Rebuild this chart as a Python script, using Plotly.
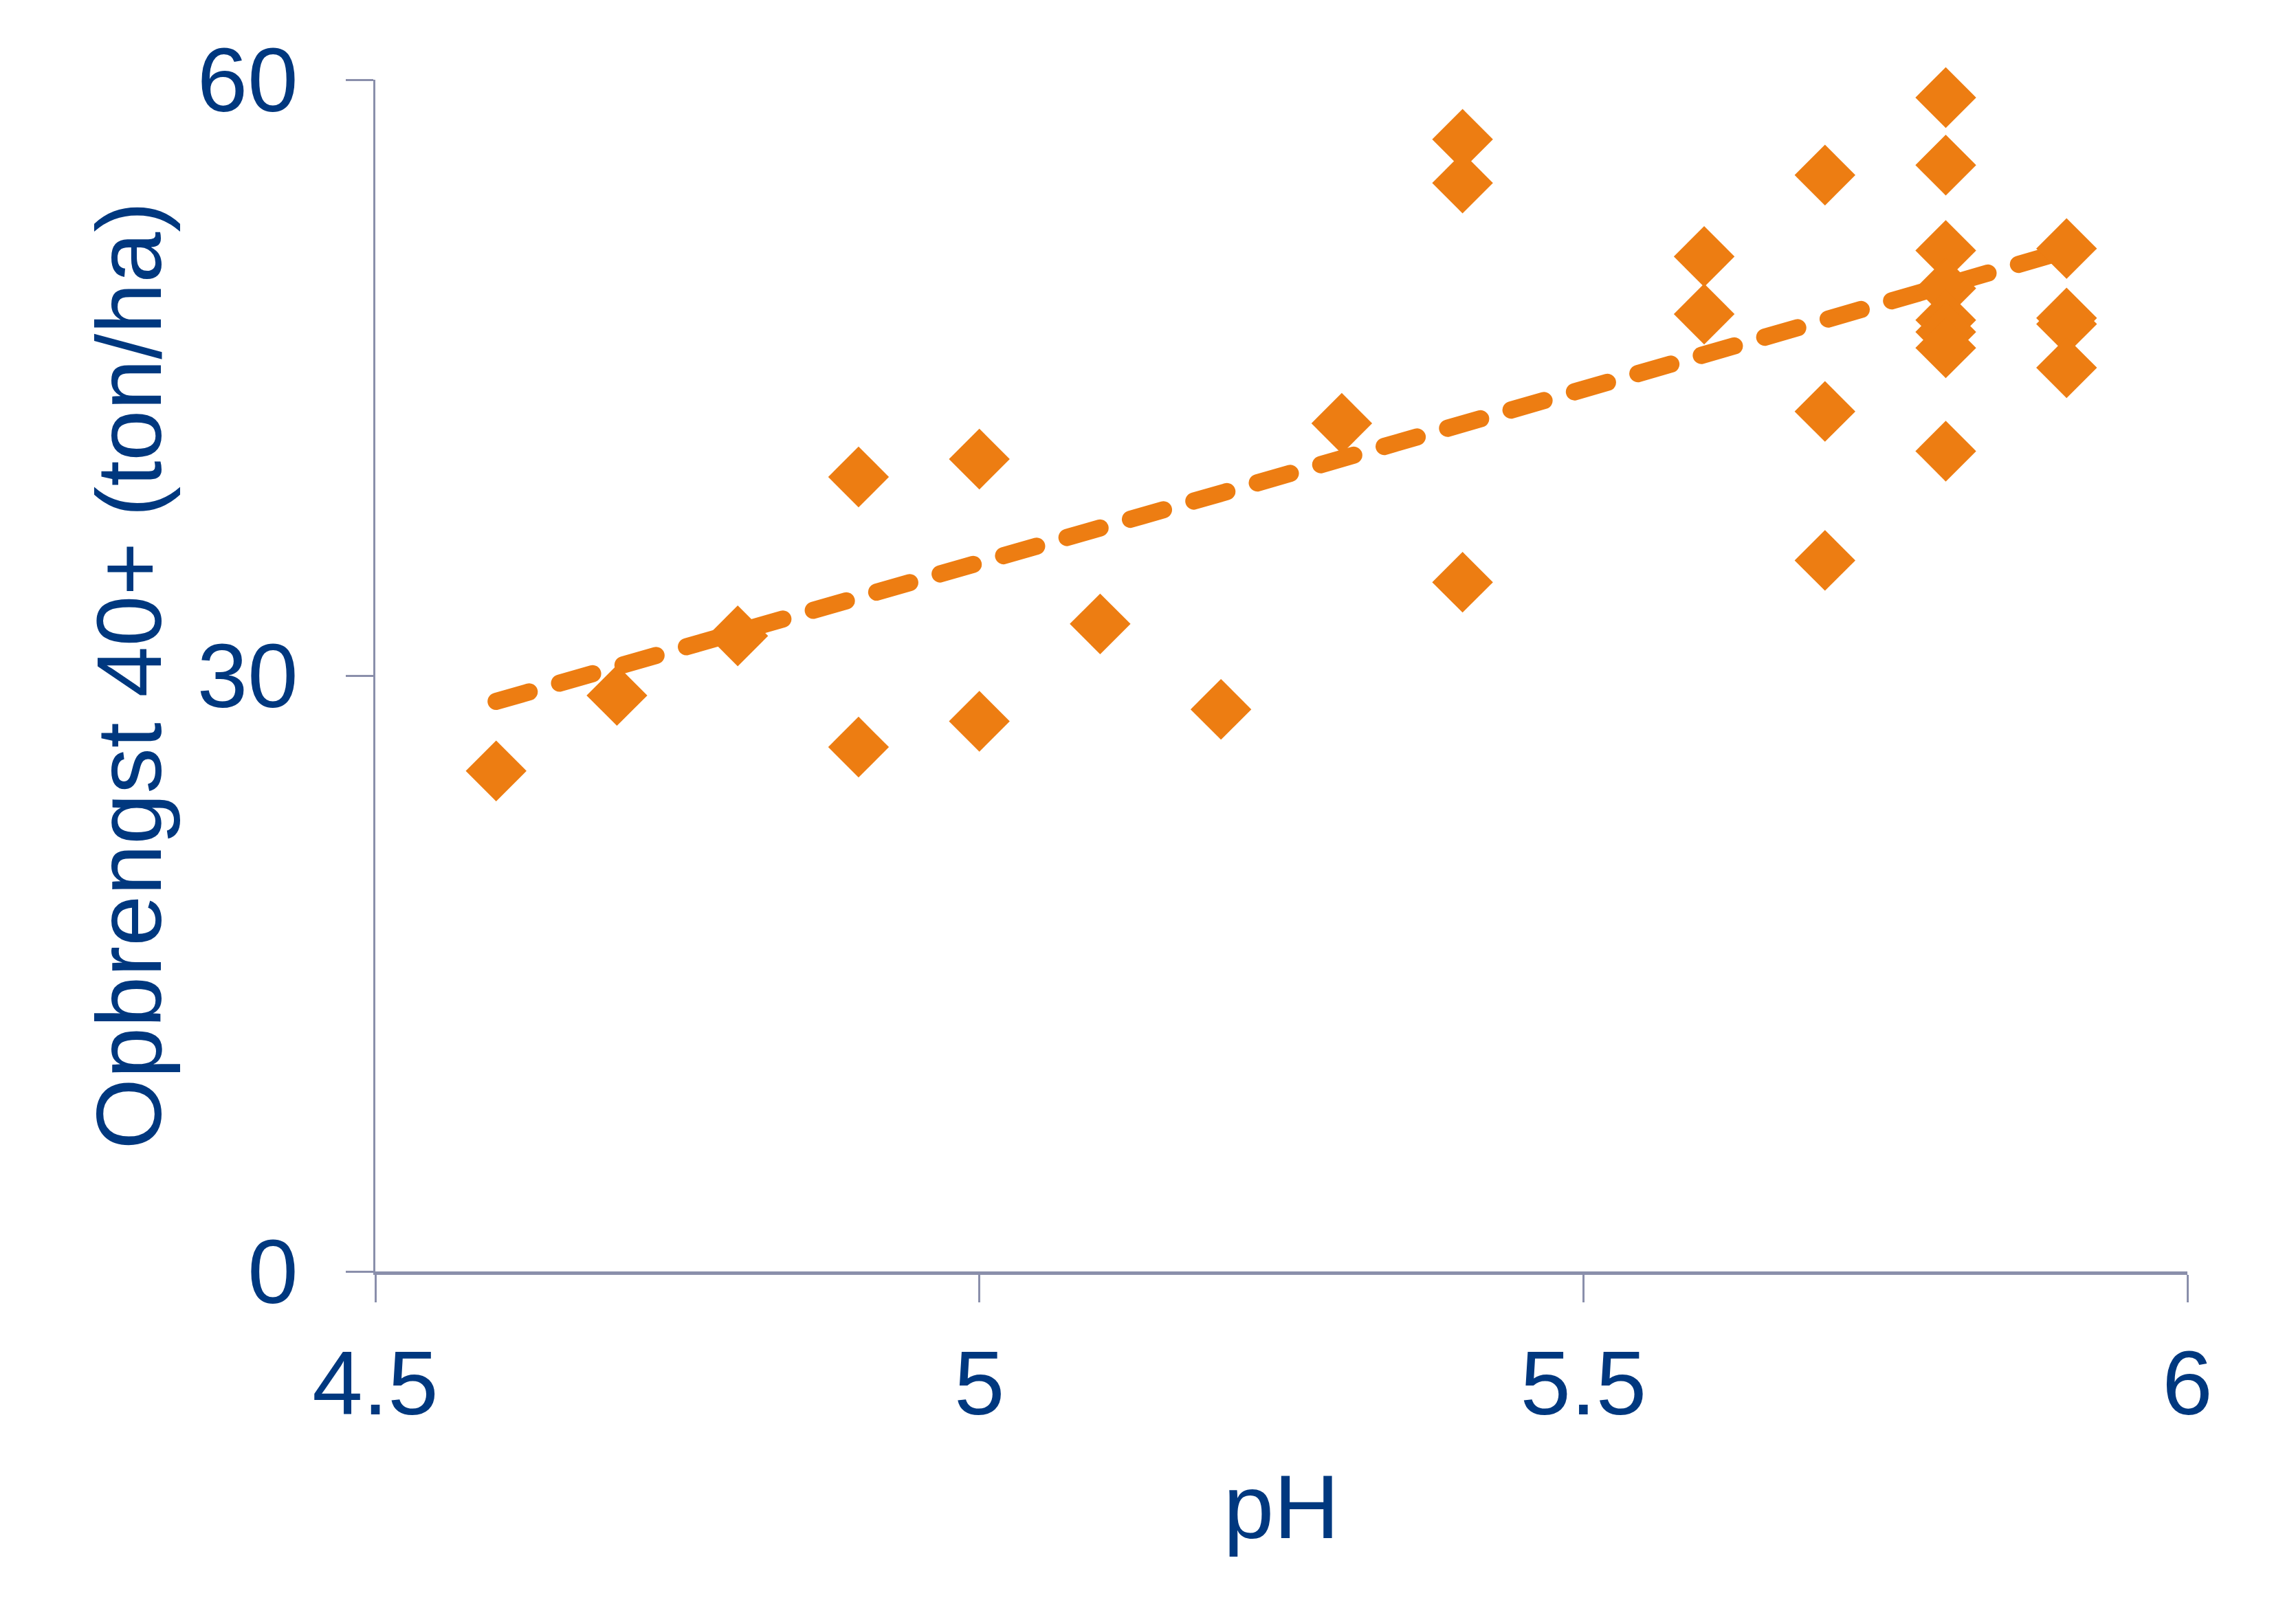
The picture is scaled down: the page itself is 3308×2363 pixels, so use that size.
import plotly.graph_objects as go

# Data
ph = [4.6, 4.7, 4.8, 4.9, 4.9, 5.0, 5.0, 5.1, 5.2, 5.3,
      5.4, 5.4, 5.4, 5.6, 5.6, 5.7, 5.7, 5.7,
      5.8, 5.8, 5.8, 5.8, 5.8, 5.8, 5.8, 5.8,
      5.9, 5.9, 5.9, 5.9]
yield_t = [25.2, 29.0, 32.0, 40.0, 26.4, 40.9, 27.7, 32.6, 28.3, 42.7,
           57.0, 54.8, 34.7, 51.1, 48.2, 55.2, 43.3, 35.8,
           59.1, 55.7, 51.4, 49.5, 47.9, 47.3, 46.5, 41.3,
           51.5, 48.0, 47.7, 45.5]

# Trend line end points
trend_x = [4.6, 5.9]
trend_y = [28.7, 51.4]

x_ticks = [4.5, 5, 5.5, 6]
x_tick_text = ["4.5", "5", "5.5", "6"]
y_ticks = [0, 30, 60]
y_tick_text = ["0", "30", "60"]

ORANGE = "#ED7D12"
NAVY = "#00387F"
AXIS = "#8A8FAB"
FONT = "Liberation Sans, Arial, sans-serif"

fig = go.Figure()
fig.add_trace(go.Scatter(
    x=trend_x, y=trend_y, mode="lines",
    line=dict(color=ORANGE, width=25, dash="50px,46px"),
    hoverinfo="skip", showlegend=False, cliponaxis=False,
))
fig.add_trace(go.Scatter(
    x=ph, y=yield_t, mode="markers",
    marker=dict(symbol="diamond", size=68, color=ORANGE, line=dict(width=0)),
    showlegend=False, cliponaxis=False,
))

fig.update_layout(
    width=3308, height=2363,
    margin=dict(l=546, r=126, t=116, b=513, pad=0),
    paper_bgcolor="white", plot_bgcolor="white",
    font=dict(family=FONT, color=NAVY, size=132),
    showlegend=False,
)
fig.update_xaxes(
    range=[4.5, 6], tickvals=x_ticks, ticktext=x_tick_text,
    showgrid=False, zeroline=False,
    showline=True, linecolor=AXIS, linewidth=5,
    ticks="outside", ticklen=40, tickwidth=3, tickcolor=AXIS,
    ticklabelstandoff=5,
    tickfont=dict(family=FONT, size=132, color=NAVY),
    title=dict(text="pH", font=dict(family=FONT, size=132, color=NAVY), standoff=62),
)
fig.update_yaxes(
    range=[0, 60], tickvals=y_ticks, ticktext=y_tick_text,
    showgrid=False, zeroline=False,
    showline=True, linecolor=AXIS, linewidth=3,
    ticks="outside", ticklen=40, tickwidth=3, tickcolor=AXIS,
    ticklabelstandoff=43,
    tickfont=dict(family=FONT, size=132, color=NAVY),
    title=dict(text="Opbrengst 40+ (ton/ha)", font=dict(family=FONT, size=133, color=NAVY), standoff=8),
)

fig.write_html("out.html", config={"displayModeBar": False})

# remove default body margin; give the dashed trend line rounded caps
with open("out.html", "r", encoding="utf-8") as f:
    html = f.read()
css = ("<style>body{margin:0;padding:0;}"
       ".scatterlayer .js-line{stroke-linecap:round !important;}</style>")
html = html.replace("<head>", "<head>" + css, 1)
with open("out.html", "w", encoding="utf-8") as f:
    f.write(html)
